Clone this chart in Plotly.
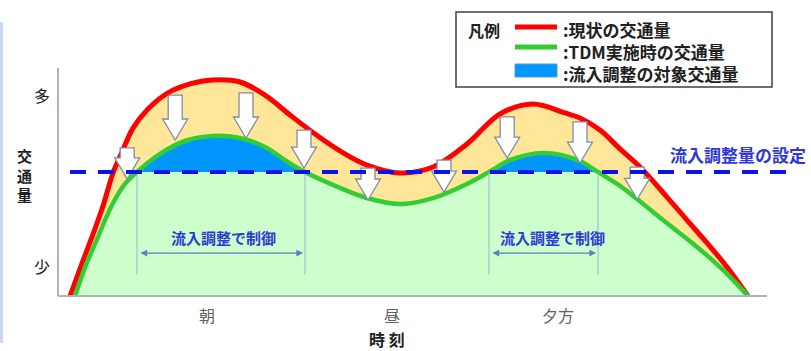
import plotly.graph_objects as go

# ---------------------------------------------------------------
# Data: time of day [h] and traffic volume index (50 = inflow-control level)
# ---------------------------------------------------------------
red_t = [5.00, 5.275, 5.55, 5.825, 6.075, 6.30, 6.575, 6.95, 7.45, 8.00, 8.55,
         9.25, 9.875, 10.50, 11.125, 11.75, 12.425, 13.25, 14.075, 14.925, 15.75,
         16.575, 17.375, 17.75, 18.25, 18.75, 19.25, 19.925, 20.425, 20.925,
         21.425, 21.95]
red_v = [0, 12.1, 23.8, 36.3, 49.6, 58.1, 67.7, 75.4, 81.9, 85.5, 87.1,
         86.3, 81.0, 73.0, 65.3, 58.5, 52.8, 49.6, 52.0, 61.3, 73.4,
         77.4, 73.8, 71.8, 66.9, 59.3, 52.0, 39.9, 30.6, 21.4,
         11.7, 0]

green_t = [5.125, 5.40, 5.70, 6.05, 6.375, 6.675, 7.25, 7.875, 8.55, 9.25, 9.875,
           10.45, 10.875, 11.575, 12.425, 13.25, 14.075, 14.925, 15.475, 16.00,
           16.825, 17.70, 18.20, 18.75, 19.175, 19.825, 20.675, 21.325, 21.95]
green_v = [0, 12.5, 23.8, 36.7, 45.2, 50.0, 57.3, 62.5, 64.5, 63.7, 60.1,
           54.0, 50.0, 44.8, 39.5, 37.1, 39.5, 45.2, 50.0, 54.8,
           57.7, 54.8, 50.0, 44.4, 39.1, 30.6, 19.8, 10.5, 0]

control_level = 50.0            # 流入調整量の設定

# down arrows: time, top value, tip value
arrow_t = [6.43, 7.63, 9.40, 10.85, 12.45, 14.35, 15.93, 17.75, 19.18]
arrow_top = [59.7, 81.0, 81.9, 66.9, 51.6, 54.8, 72.2, 70.2, 52.0]
arrow_tip = [47.2, 62.9, 63.7, 51.6, 38.7, 41.9, 55.6, 53.6, 39.0]

x_tick_vals = [8.43, 13.05, 17.2]
x_tick_text = ["朝", "昼", "夕方"]
y_tick_vals = [12.0, 81.0]
y_tick_text = ["少", "多"]

legend_items = [":現状の交通量", ":TDM実施時の交通量", ":流入調整の対象交通量"]

# ---------------------------------------------------------------
W, H = 811, 351
X_RANGE = [3.25, 23.525]
Y_RANGE = [-22.177, 119.355]
PX_X = W / (X_RANGE[1] - X_RANGE[0])     # pixels per hour
PX_Y = H / (Y_RANGE[1] - Y_RANGE[0])     # pixels per volume unit

RED = "#FF0000"
GREEN = "#33CC33"
LIGHT_GREEN = "#CCFFCC"
PEACH = "#FFE699"
BLUE_FILL = "#0096FF"
DASH_BLUE = "#0A14E6"
TEXT_BLUE = "#2E38D6"
FONT = "Noto Sans CJK JP"


def px(x):
    return x / W


def py(y):
    return 1 - y / H


fig = go.Figure()

# area under the TDM curve
fig.add_trace(go.Scatter(x=green_t, y=green_v, mode="lines",
                         line=dict(width=0, shape="spline", color=GREEN),
                         fill="tozeroy", fillcolor=LIGHT_GREEN, hoverinfo="skip"))
# reduction band between current and TDM traffic
fig.add_trace(go.Scatter(x=red_t, y=red_v, mode="lines",
                         line=dict(width=0, shape="spline", color=RED),
                         fill="tonexty", fillcolor=PEACH, hoverinfo="skip"))

# inflow-control target: TDM curve above the control level
spans = []
idx = [i for i, v in enumerate(green_v) if v == control_level]
for a, b in zip(idx[0::2], idx[1::2]):
    spans.append((green_t[a], green_t[b]))
    fig.add_trace(go.Scatter(x=green_t[a:b + 1], y=green_v[a:b + 1], mode="lines",
                             line=dict(width=0, shape="spline"),
                             fill="toself", fillcolor=BLUE_FILL, hoverinfo="skip"))

fig.add_trace(go.Scatter(x=red_t, y=red_v, mode="lines",
                         line=dict(width=5, shape="spline", color=RED), hoverinfo="skip"))
fig.add_trace(go.Scatter(x=green_t, y=green_v, mode="lines",
                         line=dict(width=4.5, shape="spline", color=GREEN), hoverinfo="skip"))

shapes = []
annotations = []


def text_at(x, y, s, size, color, xref="paper", yref="paper", xanchor="center",
            bold=False, align="center"):
    annotations.append(dict(x=x, y=y, xref=xref, yref=yref, xanchor=xanchor, yanchor="middle",
                            showarrow=False, align=align,
                            text=f"<b>{s}</b>" if bold else s,
                            font=dict(size=size, color=color, family=FONT)))


# frame strip on the left edge
shapes.append(dict(type="line", xref="paper", yref="paper", x0=px(1.5), x1=px(1.5),
                   y0=py(22), y1=py(343), line=dict(color="#C6D9F0", width=3)))

# axes
axis_t0 = X_RANGE[0] + 58 / PX_X
axis_t1 = X_RANGE[0] + 767 / PX_X
axis_top = 91.9
shapes.append(dict(type="line", xref="x", yref="y", x0=axis_t0, x1=axis_t0, y0=0, y1=axis_top,
                   line=dict(color="#AEB4BE", width=2), layer="above"))
shapes.append(dict(type="line", xref="x", yref="y", x0=axis_t0, x1=axis_t1, y0=0, y1=0,
                   line=dict(color="#AEB4BE", width=2), layer="above"))

# control period guides and double arrows
guide_bottom = 8.5
span_arrow_v = 17.3
label_t = [8.84, 17.06]
label_v = 23.5
for (a, b), lt in zip(spans, label_t):
    for t in (a, b):
        shapes.append(dict(type="line", xref="x", yref="y", x0=t, x1=t,
                           y0=guide_bottom, y1=control_level,
                           line=dict(color="#9DB3D4", width=1), layer="above"))
    annotations.append(dict(x=b - 0.05, y=span_arrow_v, ax=a + 0.05, ay=span_arrow_v,
                            xref="x", yref="y", axref="x", ayref="y", text="",
                            showarrow=True, arrowhead=2, arrowside="end+start",
                            arrowsize=1.1, arrowwidth=1.2, arrowcolor="#5B7FC0",
                            standoff=0, startstandoff=0))
    text_at(lt, label_v, "流入調整で制御", 15, TEXT_BLUE, xref="x", yref="y", bold=True)

# block arrows pointing from current to TDM traffic
SHAFT_HALF = 7.0 / PX_X
HEAD_HALF = 12.5 / PX_X
HEAD_LEN = 21.0 / PX_Y
for t, top, tip in zip(arrow_t, arrow_top, arrow_tip):
    base = tip + HEAD_LEN
    path = (f"M{t - SHAFT_HALF},{top} L{t + SHAFT_HALF},{top} L{t + SHAFT_HALF},{base} "
            f"L{t + HEAD_HALF},{base} L{t},{tip} L{t - HEAD_HALF},{base} "
            f"L{t - SHAFT_HALF},{base} Z")
    shapes.append(dict(type="path", xref="x", yref="y", path=path,
                       fillcolor="white", line=dict(color="#7D8CA8", width=1.3),
                       layer="above"))

# inflow-control setting line
dash_t0 = 5.0
dash_t1 = X_RANGE[0] + 793 / PX_X
shapes.append(dict(type="line", xref="x", yref="y", x0=dash_t0, x1=dash_t1,
                   y0=control_level, y1=control_level,
                   line=dict(color=DASH_BLUE, width=4, dash="16px,12px"), layer="above"))
text_at(X_RANGE[0] + 668 / PX_X, control_level + 6.9, "流入調整量の設定", 17, TEXT_BLUE,
        xref="x", yref="y", xanchor="left", bold=True)

# tick labels
for t, s in zip(x_tick_vals, x_tick_text):
    text_at(t, -7.7, s, 16, "#606060", xref="x", yref="y")
for v, s in zip(y_tick_vals, y_tick_text):
    text_at(px(42), v, s, 16, "#202020", yref="y")

# axis titles
text_at(px(24), py(175), "<br>".join("交通量"), 15, "#202020", bold=True)
text_at(px(387), py(339), "時 刻", 16, "#202020", bold=True)

# legend
shapes.append(dict(type="rect", xref="paper", yref="paper", x0=px(456), x1=px(772),
                   y0=py(87), y1=py(12), fillcolor="white",
                   line=dict(color="#404040", width=1.5), layer="above"))
text_at(px(484), py(30), "凡例", 16, "#202020", bold=True)
shapes.append(dict(type="line", xref="paper", yref="paper", x0=px(515), x1=px(557),
                   y0=py(27), y1=py(27), line=dict(color=RED, width=5), layer="above"))
shapes.append(dict(type="line", xref="paper", yref="paper", x0=px(515), x1=px(557),
                   y0=py(47), y1=py(47), line=dict(color=GREEN, width=5), layer="above"))
shapes.append(dict(type="rect", xref="paper", yref="paper", x0=px(515), x1=px(557),
                   y0=py(77), y1=py(64), fillcolor=BLUE_FILL,
                   line=dict(color="#5B9BD5", width=1), layer="above"))
text_at(px(561), py(51), "<br>".join(legend_items), 17, "#202020",
        xanchor="left", bold=True, align="left")

fig.update_layout(
    width=W, height=H,
    margin=dict(l=0, r=0, t=0, b=0),
    paper_bgcolor="white", plot_bgcolor="white",
    showlegend=False,
    font=dict(family=FONT),
    xaxis=dict(range=X_RANGE, visible=False, fixedrange=True),
    yaxis=dict(range=Y_RANGE, visible=False, fixedrange=True),
    shapes=shapes,
    annotations=annotations,
)

fig.write_html("out.html")
